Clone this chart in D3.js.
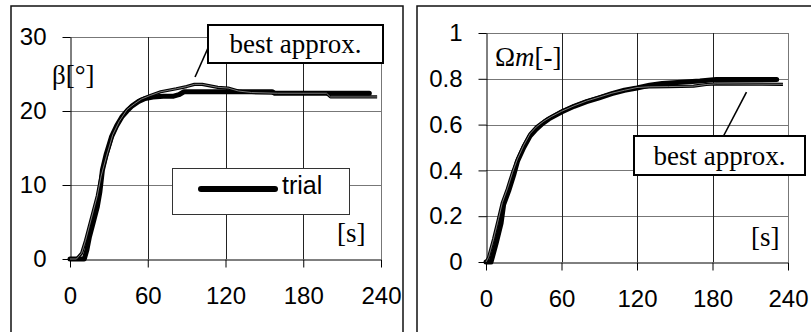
<!DOCTYPE html>
<html>
<head>
<meta charset="utf-8">
<script src="https://cdn.jsdelivr.net/npm/d3@7"></script>
<style>
  body { margin: 0; background: #fff; }
  svg { display: block; }
</style>
</head>
<body>
<svg id="fig" width="811" height="332"></svg>
<script>
// ---- data -------------------------------------------------------------
const timeTicks = [0, 60, 120, 180, 240];
const timeTickLabels = ["0", "60", "120", "180", "240"];

const betaTicks = [0, 10, 20, 30];
const betaTickLabels = ["0", "10", "20", "30"];

const omegaTicks = [0, 0.2, 0.4, 0.6, 0.8, 1];
const omegaTickLabels = ["0", "0.2", "0.4", "0.6", "0.8", "1"];

// beta [deg] vs time [s]
const betaTrialT = [0, 11, 13, 15, 18, 21, 23, 25, 28, 32, 36, 40, 44, 48, 53, 58, 64, 72, 80, 84, 88, 100, 130, 156, 158, 231];
const betaTrialV = [0, 0, 1.2, 3, 5, 7, 9, 12, 14.2, 16.5, 18, 19.2, 20, 20.7, 21.3, 21.7, 21.9, 22, 22, 22.2, 22.6, 22.6, 22.6, 22.6, 22.4, 22.4];

const betaApproxT = [0, 5, 9, 12, 15, 18, 21, 24, 28, 33, 38, 44, 50, 55, 62, 70, 76, 82, 90, 96, 102, 108, 114, 122, 130, 140, 160, 198, 201, 237];
const betaApproxV = [0, 0, 0.8, 2.5, 4.5, 6.5, 8.5, 11.2, 13.8, 16.8, 18.6, 20.2, 21, 21.6, 22.1, 22.6, 22.8, 23.0, 23.3, 23.6, 23.6, 23.4, 23.2, 23.1, 22.7, 22.5, 22.4, 22.4, 21.9, 21.9];

// Omega m [-] vs time [s]
const omegaTrialT = [0, 4, 8, 12, 14, 18, 22, 25, 30, 35, 40, 45, 50, 60, 70, 80, 90, 100, 110, 120, 130, 140, 155, 170, 183, 231];
const omegaTrialV = [0, 0, 0.08, 0.17, 0.25, 0.31, 0.38, 0.44, 0.5, 0.55, 0.58, 0.605, 0.625, 0.655, 0.68, 0.7, 0.717, 0.735, 0.75, 0.76, 0.772, 0.78, 0.785, 0.79, 0.797, 0.797];

const omegaApproxT = [0, 2, 6, 10, 13, 17, 21, 25, 30, 35, 40, 46, 52, 60, 70, 80, 90, 100, 110, 120, 130, 145, 165, 175, 183, 236];
const omegaApproxV = [0, 0.02, 0.1, 0.19, 0.26, 0.32, 0.39, 0.45, 0.51, 0.56, 0.59, 0.615, 0.635, 0.658, 0.682, 0.703, 0.72, 0.737, 0.75, 0.762, 0.765, 0.766, 0.768, 0.775, 0.778, 0.776];

// ---- drawing ----------------------------------------------------------
const svg = d3.select("#fig");
const SANS = "Arial, 'Liberation Sans', sans-serif";
const SERIF = "'Times New Roman', 'Liberation Serif', serif";

const zip = (ts, vs) => ts.map((t, i) => [t, vs[i]]);

function panel(cfg) {
  const g = svg.append("g");

  // outer frame (open at the bottom edge)
  g.append("path")
    .attr("d", `M${cfg.frame[0]},340V${cfg.frame[1]}H${cfg.frame[2]}V340`)
    .attr("fill", "none").attr("stroke", "#111").attr("stroke-width", 1.5);

  const x = d3.scaleLinear().domain([0, 240]).range([cfg.left, cfg.right]);
  const y = d3.scaleLinear().domain([0, cfg.yMax]).range([cfg.bottom, cfg.top]);

  // grid
  g.append("g").selectAll("line").data(cfg.yTicks.slice(1)).join("line")
    .attr("x1", cfg.left).attr("x2", cfg.right)
    .attr("y1", d => Math.round(y(d)) + 0.5).attr("y2", d => Math.round(y(d)) + 0.5)
    .attr("stroke", "#777").attr("stroke-width", 1);
  g.append("g").selectAll("line").data(timeTicks.slice(1)).join("line")
    .attr("x1", d => Math.round(x(d)) + 0.5).attr("x2", d => Math.round(x(d)) + 0.5)
    .attr("y1", cfg.top).attr("y2", cfg.bottom)
    .attr("stroke", d => d === 240 ? "#777" : "#222").attr("stroke-width", 1);

  // axes
  const yAxis = d3.axisLeft(y).tickValues(cfg.yTicks)
    .tickFormat((d, i) => cfg.yLabels[i]).tickSize(8).tickSizeOuter(0).tickPadding(16);
  const xAxis = d3.axisBottom(x).tickValues(timeTicks)
    .tickFormat((d, i) => timeTickLabels[i]).tickSize(8).tickSizeOuter(0).tickPadding(19);

  const ya = g.append("g").attr("transform", `translate(${cfg.left + 0.5},0)`).call(yAxis);
  const xa = g.append("g").attr("transform", `translate(0,${cfg.bottom + 0.5})`).call(xAxis);
  [ya, xa].forEach(a => {
    a.selectAll("path,line").attr("stroke", "#000");
    a.selectAll("text").attr("fill", "#000").style("font-family", SANS).style("font-size", "24px");
  });

  // series
  const line = d3.line().x(d => x(d[0])).y(d => y(d[1]));
  const approx = zip(cfg.approxT, cfg.approxV);
  const trial = zip(cfg.trialT, cfg.trialV);

  g.append("path").datum(approx).attr("d", line)
    .attr("fill", "none").attr("stroke", "#000").attr("stroke-width", 3.2)
    .attr("stroke-linejoin", "round");
  g.append("path").datum(trial).attr("d", line)
    .attr("fill", "none").attr("stroke", "#000").attr("stroke-width", 5)
    .attr("stroke-linejoin", "round").attr("stroke-linecap", "round");
  g.append("path").datum(approx).attr("d", line)
    .attr("fill", "none").attr("stroke", "#9a9a9a").attr("stroke-width", 1)
    .attr("stroke-linejoin", "round").attr("opacity", 0.8);

  return { g, x, y };
}

// left: beta
const L = panel({
  frame: [11, 6, 403], left: 70, right: 381, top: 37, bottom: 259,
  yMax: 30, yTicks: betaTicks, yLabels: betaTickLabels,
  trialT: betaTrialT, trialV: betaTrialV, approxT: betaApproxT, approxV: betaApproxV
});

// right: Omega m
const R = panel({
  frame: [417, 6, 812], left: 486, right: 788, top: 33, bottom: 262,
  yMax: 1, yTicks: omegaTicks, yLabels: omegaTickLabels,
  trialT: omegaTrialT, trialV: omegaTrialV, approxT: omegaApproxT, approxV: omegaApproxV
});

// axis titles
L.g.append("text").attr("x", 52).attr("y", 84)
  .style("font-family", SERIF).style("font-size", "27px").text("β[°]");
L.g.append("text").attr("x", 337).attr("y", 242)
  .style("font-family", SERIF).style("font-size", "27px").text("[s]");

const om = R.g.append("text").attr("x", 495).attr("y", 66)
  .style("font-family", SERIF).style("font-size", "27px");
om.append("tspan").text("Ω");
om.append("tspan").style("font-style", "italic").text("m");
om.append("tspan").text("[-]");
R.g.append("text").attr("x", 751).attr("y", 246)
  .style("font-family", SERIF).style("font-size", "27px").text("[s]");

// legend for the thick series
L.g.append("rect").attr("x", 172.5).attr("y", 168.5).attr("width", 177).attr("height", 46)
  .attr("fill", "#fff").attr("stroke", "#333").attr("stroke-width", 1);
L.g.append("line").attr("x1", 201).attr("x2", 275).attr("y1", 189).attr("y2", 189)
  .attr("stroke", "#000").attr("stroke-width", 6).attr("stroke-linecap", "round");
L.g.append("text").attr("x", 282).attr("y", 194)
  .style("font-family", SANS).style("font-size", "25px").text("trial");

// callouts naming the thin series
function callout(p, box, target, from) {
  p.g.append("line")
    .attr("x1", from[0]).attr("y1", from[1])
    .attr("x2", p.x(target[0])).attr("y2", p.y(target[1]))
    .attr("stroke", "#000").attr("stroke-width", 1.6);
  p.g.append("rect").attr("x", box[0]).attr("y", box[1]).attr("width", box[2]).attr("height", box[3])
    .attr("fill", "#fff").attr("stroke", "#000").attr("stroke-width", 2);
  p.g.append("text").attr("x", box[0] + box[2] / 2).attr("y", box[1] + box[3] - 10)
    .attr("text-anchor", "middle")
    .style("font-family", SERIF).style("font-size", "27px").text("best approx.");
}
callout(L, [208, 25, 175, 38], [96.5, 24.6], [208, 48]);
callout(R, [634, 136, 171, 39], [207, 0.742], [723, 137]);
</script>
</body>
</html>
